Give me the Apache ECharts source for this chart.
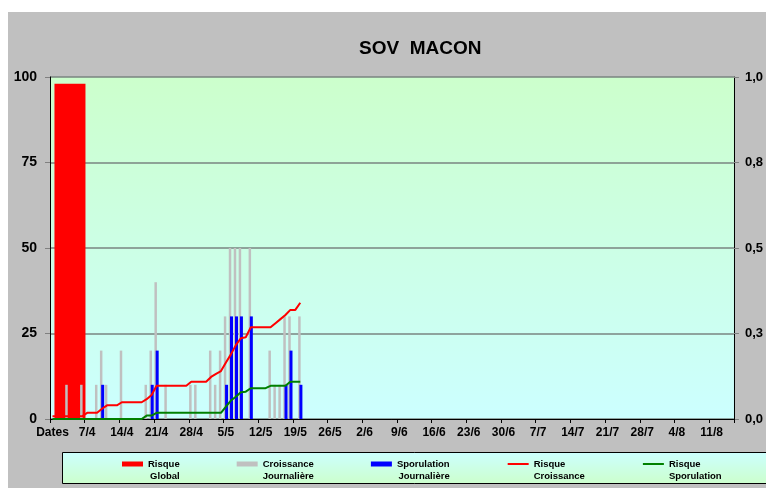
<!DOCTYPE html>
<html><head><meta charset="utf-8">
<script src="https://cdn.jsdelivr.net/npm/echarts@6/dist/echarts.min.js"></script>
<style>html,body{margin:0;padding:0;background:#fff;}#c{width:766px;height:488px;}</style>
</head><body><div id="c"></div>
<script>
// ---------- DATA ----------
const chartTitle = 'SOV  MACON';
// x tick labels shown every 7 days (first one is the axis caption)
const tickLabels = ['Dates','7/4','14/4','21/4','28/4','5/5','12/5','19/5','26/5','2/6','9/6','16/6','23/6','30/6','7/7','14/7','21/7','28/7','4/8','11/8'];
const dayCount = 138;            // 31/3 .. 15/8, one category per day
const leftTicks = [0, 25, 50, 75, 100];
const rightTicks = [0, 0.25, 0.5, 0.75, 1];

const risqueGlobalDays = [4];
const risqueGlobalValues = [98];

const croissanceDays   = [3,6,9,10,11,14,19,20,21,23,28,29,32,33,34,35,36,37,38,40,44,45,46,47,48,50];
const croissanceValues = [10,10,10,20,10,20,10,20,40,10,10,10,20,10,20,30,50,50,50,50,20,10,10,30,30,30];

const sporulationDays   = [10,20,21,35,36,37,38,40,47,48,50];
const sporulationValues = [10,10,20,10,30,30,30,30,10,20,10];

const risqueCroissance = [
  0.008,0.008,0.008,0.008,0.008,0.008,0.008,
  0.018,0.018,0.018,
  0.03,
  0.04,0.04,0.04,
  0.049,0.049,0.049,0.049,0.049,
  0.058,0.07,
  0.097,0.097,0.097,0.097,0.097,0.097,0.097,
  0.109,0.109,0.109,0.109,
  0.123,0.132,0.14,0.165,0.189,0.216,0.236,0.239,
  0.268,0.268,0.268,0.268,0.268,
  0.28,0.292,0.304,0.319,0.319,0.34
];
const risqueSporulation = [
  0,0,0,0,0,0,0,0,0,0,0,0,0,0,0,0,0,0,0,
  0.01,0.01,
  0.018,0.018,0.018,0.018,0.018,0.018,0.018,0.018,0.018,0.018,0.018,0.018,0.018,0.018,
  0.036,0.054,0.065,0.078,0.08,
  0.09,0.09,0.09,0.09,
  0.097,0.097,0.097,0.097,
  0.109,0.109,0.109
];

const legendLines = {
  'Risque Global': ['Risque','Global'],
  'Croissance Journalière': ['Croissance','Journalière'],
  'Sporulation Journalière': ['Sporulation','Journalière'],
  'Risque Croissance': ['Risque','Croissance'],
  'Risque Sporulation': ['Risque','Sporulation']
};

// ---------- BUILD ----------
const categories = [];
(function(){
  const dim = [0,31,28,31,30,31,30,31,31,30,31,30,31];
  let d = 31, m = 3;
  for (let i = 0; i < dayCount; i++) {
    categories.push(d + '/' + m);
    d++; if (d > dim[m]) { d = 1; m++; }
  }
})();
function sparse(days, vals) {
  const arr = new Array(dayCount).fill(null);
  days.forEach((d, k) => { arr[d] = vals[k]; });
  return arr;
}

const FONT = 'Arial, "Liberation Sans", sans-serif';
const chart = echarts.init(document.getElementById('c'), null, {renderer: 'canvas'});

const option = {
  animation: false,
  backgroundColor: '#ffffff',
  graphic: [
    { type: 'rect', z: -100, silent: true, shape: {x: 8, y: 12, width: 770, height: 480}, style: {fill: '#C0C0C0'} },
    { type: 'rect', z: -50, silent: true, shape: {x: 62.5, y: 452.5, width: 720, height: 31},
      style: {
        fill: new echarts.graphic.LinearGradient(0,0,0,1,[{offset:0,color:'#CCFFFF'},{offset:1,color:'#CCFFCC'}]),
        stroke: '#000', lineWidth: 1
      } }
  ],
  title: {
    text: chartTitle, left: 359, top: 39, padding: 0,
    textStyle: {fontFamily: FONT, fontWeight: 'bold', fontSize: 19, color: '#000'}
  },
  legend: {
    left: 122, top: 446, padding: 0,
    itemWidth: 21, itemHeight: 5, itemGap: 57,
    selectedMode: false,
    data: [
      {name: 'Risque Global', icon: 'rect'},
      {name: 'Croissance Journalière', icon: 'rect'},
      {name: 'Sporulation Journalière', icon: 'rect'},
      {name: 'Risque Croissance', itemStyle: {color: 'rgba(0,0,0,0)', borderWidth: 0, borderColor: 'rgba(0,0,0,0)'}},
      {name: 'Risque Sporulation', itemStyle: {color: 'rgba(0,0,0,0)', borderWidth: 0, borderColor: 'rgba(0,0,0,0)'}}
    ],
    formatter: function (name) {
      const l = legendLines[name];
      const st = (name === 'Risque Croissance' || name === 'Risque Sporulation') ? 'l' : 'r';
      return '{' + st + '|' + l[0] + '}\n{' + st + '|' + l[1] + '}';
    },
    textStyle: {
      fontFamily: FONT, fontWeight: 'bold', fontSize: 9.5, color: '#000', lineHeight: 12,
      padding: [12, 0, 0, 0],
      rich: {
        r: {align: 'right', fontFamily: FONT, fontWeight: 'bold', fontSize: 9.5, color: '#000', lineHeight: 12},
        l: {align: 'left', fontFamily: FONT, fontWeight: 'bold', fontSize: 9.5, color: '#000', lineHeight: 12}
      }
    }
  },
  grid: {
    left: 50, right: 29, top: 77, bottom: 69, show: true, borderWidth: 0,
    backgroundColor: new echarts.graphic.LinearGradient(0,0,0,1,[{offset:0,color:'#CCFFCC'},{offset:1,color:'#CCFFFF'}])
  },
  xAxis: [
    {
      type: 'category', data: categories, boundaryGap: true,
      axisLine: {show: true, lineStyle: {color: '#000', width: 1}},
      axisTick: {show: true, interval: 6, length: 4, lineStyle: {color: '#000'}},
      axisLabel: {
        interval: 6, margin: 8, color: '#000', fontFamily: FONT, fontWeight: 'bold', fontSize: 12,
        formatter: function (v, i) { return tickLabels[i / 7] !== undefined ? tickLabels[i / 7] : v; }
      },
      splitLine: {show: false}
    },
    { type: 'category', data: categories, boundaryGap: false, show: false }
  ],
  yAxis: [
    {
      type: 'value', min: leftTicks[0], max: leftTicks[leftTicks.length-1], interval: 25, position: 'left',
      axisLine: {show: true, lineStyle: {color: '#000', width: 1}},
      axisTick: {show: true, length: 5, lineStyle: {color: '#808080'}},
      axisLabel: {margin: 13, color: '#000', fontFamily: FONT, fontWeight: 'bold', fontSize: 14},
      splitLine: {show: true, lineStyle: {color: '#7a8580', width: 1.6}}
    },
    {
      type: 'value', min: rightTicks[0], max: rightTicks[rightTicks.length-1], interval: 0.25, position: 'right',
      axisLine: {show: true, lineStyle: {color: '#000', width: 1}},
      axisTick: {show: true, length: 5, lineStyle: {color: '#808080'}},
      axisLabel: {
        margin: 11, color: '#000', fontFamily: FONT, fontWeight: 'bold', fontSize: 13,
        formatter: function (v) { return (Math.round(v * 10) / 10).toFixed(1).replace('.', ','); }
      },
      splitLine: {show: false}
    }
  ],
  series: [
    {
      name: 'Risque Global', type: 'bar', xAxisIndex: 1, yAxisIndex: 0,
      data: sparse(risqueGlobalDays, risqueGlobalValues), barWidth: 31,
      itemStyle: {color: '#FF0000'}
    },
    {
      name: 'Croissance Journalière', type: 'bar', xAxisIndex: 0, yAxisIndex: 0,
      data: sparse(croissanceDays, croissanceValues), barWidth: 2.5, barGap: '-50%',
      itemStyle: {color: '#C0C0C0'}
    },
    {
      name: 'Sporulation Journalière', type: 'bar', xAxisIndex: 0, yAxisIndex: 0,
      data: sparse(sporulationDays, sporulationValues), barWidth: 3, barGap: '-50%',
      itemStyle: {color: '#0000FF'}
    },
    {
      name: 'Risque Croissance', type: 'line', xAxisIndex: 0, yAxisIndex: 1,
      data: risqueCroissance, symbol: 'none', showSymbol: false,
      lineStyle: {color: '#FF0000', width: 2}, itemStyle: {color: '#FF0000'}
    },
    {
      name: 'Risque Sporulation', type: 'line', xAxisIndex: 0, yAxisIndex: 1,
      data: risqueSporulation, symbol: 'none', showSymbol: false,
      lineStyle: {color: '#008000', width: 2}, itemStyle: {color: '#008000'}
    }
  ]
};
chart.setOption(option);
</script>
</body></html>
